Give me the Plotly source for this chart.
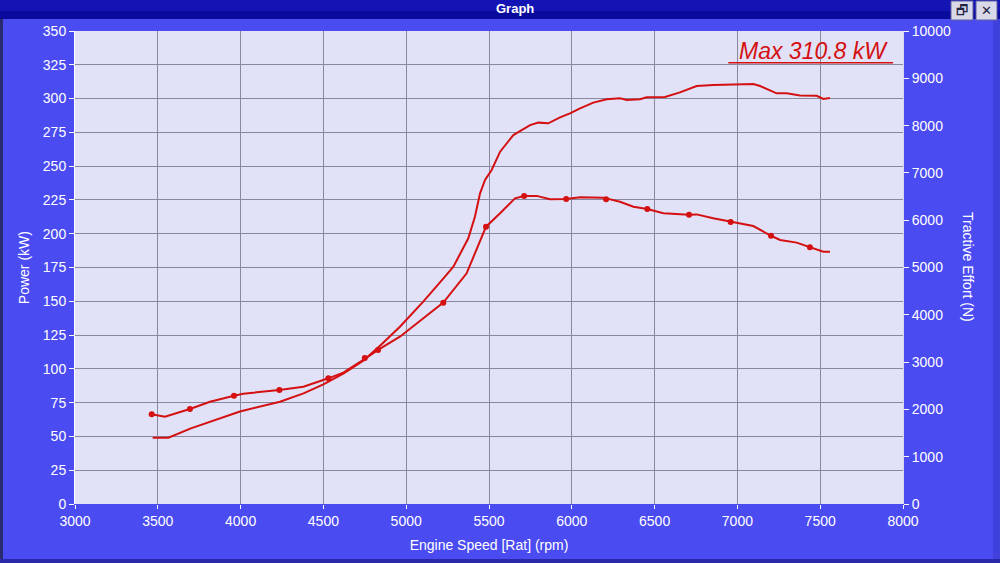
import plotly.graph_objects as go

# ---- data ----
power_rpm = [3469, 3564, 3700, 3850, 3996, 4238, 4380, 4500, 4620, 4741, 4850, 4962, 5103, 5234, 5285,
             5375, 5415, 5446, 5476, 5516, 5567, 5647, 5748, 5798, 5858, 5929, 5989, 6050, 6130,
             6211, 6291, 6332, 6412, 6452, 6563, 6653, 6754, 6854, 6944, 6975, 7096, 7137, 7237,
             7298, 7378, 7479, 7519, 7559]
power_kw = [49.1, 49.0, 56.0, 62.2, 68.5, 75.7, 81.9, 88.5, 96.5, 106.0, 118.0, 131.2, 149.7, 168.2, 175.6,
            196.6, 212.6, 229.9, 239.8, 247.2, 260.7, 273.0, 280.4, 282.2, 281.7, 286.1, 289.0, 292.8, 297.0,
            299.5, 300.2, 299.0, 299.5, 300.9, 301.2, 304.6, 309.3, 310.0, 310.2, 310.8, 310.8, 309.3, 303.9,
            303.9, 302.2, 302.0, 299.7, 300.4]

te_rpm = [3463, 3543, 3694, 3815, 3960, 4016, 4234, 4379, 4530, 4620, 4741, 4830, 4962, 5224,
          5365, 5425, 5482, 5567, 5657, 5712, 5788, 5869, 5966, 6050, 6190, 6291, 6372, 6456,
          6553, 6708, 6754, 6854, 6959, 7096, 7203, 7258, 7358, 7438, 7519, 7559]
te_n = [1897, 1846, 2009, 2163, 2289, 2331, 2411, 2480, 2657, 2777, 3046, 3257, 3537, 4257,
        4877, 5371, 5863, 6146, 6463, 6511, 6514, 6443, 6449, 6486, 6477, 6391, 6286, 6237,
        6146, 6117, 6123, 6040, 5963, 5877, 5671, 5583, 5526, 5429, 5334, 5334]

marker_rpm = [3463, 3694, 3960, 4234, 4530, 4750, 4830, 5224, 5482, 5712, 5966, 6207, 6456,
              6708, 6959, 7203, 7438]
marker_n = [1897, 2009, 2289, 2411, 2657, 3086, 3257, 4257, 5863, 6511, 6449, 6443, 6237,
            6117, 5963, 5671, 5429]

x_ticks = [3000, 3500, 4000, 4500, 5000, 5500, 6000, 6500, 7000, 7500, 8000]
left_ticks = list(range(0, 351, 25))
right_ticks = list(range(0, 10001, 1000))

RED = "#D41010"
BG = "#4B4BF2"
PLOT_BG = "#E1E1F8"
GRID = "#88889E"
FONT = "Liberation Sans, Arial, sans-serif"

fig = go.Figure()
fig.add_trace(go.Scatter(x=power_rpm, y=power_kw, mode="lines",
                         line=dict(color=RED, width=2), yaxis="y", showlegend=False))
fig.add_trace(go.Scatter(x=te_rpm, y=te_n, mode="lines",
                         line=dict(color=RED, width=2), yaxis="y2", showlegend=False))
fig.add_trace(go.Scatter(x=marker_rpm, y=marker_n, mode="markers",
                         marker=dict(color=RED, size=6), yaxis="y2", showlegend=False))

tickfont = dict(family=FONT, size=14, color="white")

fig.update_layout(
    width=1000, height=563,
    paper_bgcolor=BG, plot_bgcolor=PLOT_BG,
    margin=dict(l=75, r=97, t=31, b=59),
    font=dict(family=FONT, color="white"),
    xaxis=dict(range=[3000, 8000], tickvals=x_ticks, ticktext=[str(v) for v in x_ticks],
               showgrid=True, gridcolor=GRID, gridwidth=1, zeroline=False,
               ticks="outside", ticklen=4, tickcolor="white", tickfont=tickfont,
               showline=False,
               title=dict(text="Engine Speed [Rat] (rpm)", font=dict(family=FONT, size=14, color="white"),
                          standoff=12)),
    yaxis=dict(range=[0, 350], tickvals=left_ticks, ticktext=[str(v) for v in left_ticks],
               showgrid=True, gridcolor=GRID, gridwidth=1,
               zeroline=False, ticks="outside", ticklen=5, tickcolor="white", tickfont=tickfont,
               showline=True, linecolor="white", linewidth=1),
    yaxis2=dict(range=[0, 10000], tickvals=right_ticks, ticktext=[str(v) for v in right_ticks],
                overlaying="y", side="right",
                showgrid=False, zeroline=False, ticks="outside", ticklen=5, tickcolor="white",
                tickfont=tickfont, showline=True, linecolor="#D8D8F0", linewidth=1),
)

# left/right axis titles
fig.add_annotation(text="Power (kW)", xref="paper", yref="paper", x=-0.062, y=0.5,
                   textangle=-90, showarrow=False, font=dict(family=FONT, size=14, color="white"),
                   xanchor="center", yanchor="middle")
fig.add_annotation(text="Tractive Effort (N)", xref="paper", yref="paper", x=1.079, y=0.5,
                   textangle=90, showarrow=False, font=dict(family=FONT, size=14, color="white"),
                   xanchor="center", yanchor="middle")

# Max annotation
fig.add_annotation(text="<i>Max 310.8 kW</i>", xref="paper", yref="paper", x=0.984, y=0.958,
                   xanchor="right", yanchor="middle", showarrow=False,
                   font=dict(family=FONT, size=23, color=RED))
fig.add_shape(type="line", xref="paper", yref="paper", x0=0.789, x1=0.988, y0=0.933, y1=0.933,
              line=dict(color=RED, width=1.5))

# window title bar
fig.add_shape(type="rect", xref="paper", yref="paper", x0=-0.1, x1=1.12,
              y0=1.0 + 12 / 473, y1=1.0 + 31 / 473, fillcolor="#0A0A9C", line=dict(width=0), layer="below")
fig.add_shape(type="rect", xref="paper", yref="paper", x0=-0.1, x1=1.12,
              y0=1.0 + 20 / 473, y1=1.0 + 31 / 473, fillcolor="#1414B4", line=dict(width=0), layer="below")
fig.add_annotation(text="<b>Graph</b>", xref="paper", yref="paper", x=(515 - 75) / 828,
                   y=1.0 + 22 / 473, showarrow=False, xanchor="center", yanchor="middle",
                   font=dict(family=FONT, size=13, color="white"))
# window buttons
for x0, x1, label in [(951, 973, "🗗"), (976, 997, "✕")]:
    fig.add_shape(type="rect", xref="paper", yref="paper",
                  x0=(x0 - 75) / 828, x1=(x1 - 75) / 828,
                  y0=1.0 + 11 / 473, y1=1.0 + 30 / 473,
                  fillcolor="#D8D8E8", line=dict(color="#6060A0", width=1))
    fig.add_annotation(text=label, xref="paper", yref="paper", x=((x0 + x1) / 2 - 75) / 828,
                       y=1.0 + 20.5 / 473, showarrow=False, xanchor="center", yanchor="middle",
                       font=dict(family="DejaVu Sans", size=13, color="#202040"))

# window borders
fig.add_shape(type="rect", xref="paper", yref="paper", x0=-75 / 828, x1=-72 / 828,
              y0=-59 / 473, y1=1.0 + 12 / 473, fillcolor="#2A2A70", line=dict(width=0))
fig.add_shape(type="rect", xref="paper", yref="paper", x0=(993 - 75) / 828, x1=(1000 - 75) / 828,
              y0=-59 / 473, y1=1.0 + 12 / 473, fillcolor="#4040DC", line=dict(width=0), layer="below")
fig.add_shape(type="rect", xref="paper", yref="paper", x0=-75 / 828, x1=(1000 - 75) / 828,
              y0=-59 / 473, y1=-55 / 473, fillcolor="#2828A8", line=dict(width=0))

fig.write_html("out.html")
